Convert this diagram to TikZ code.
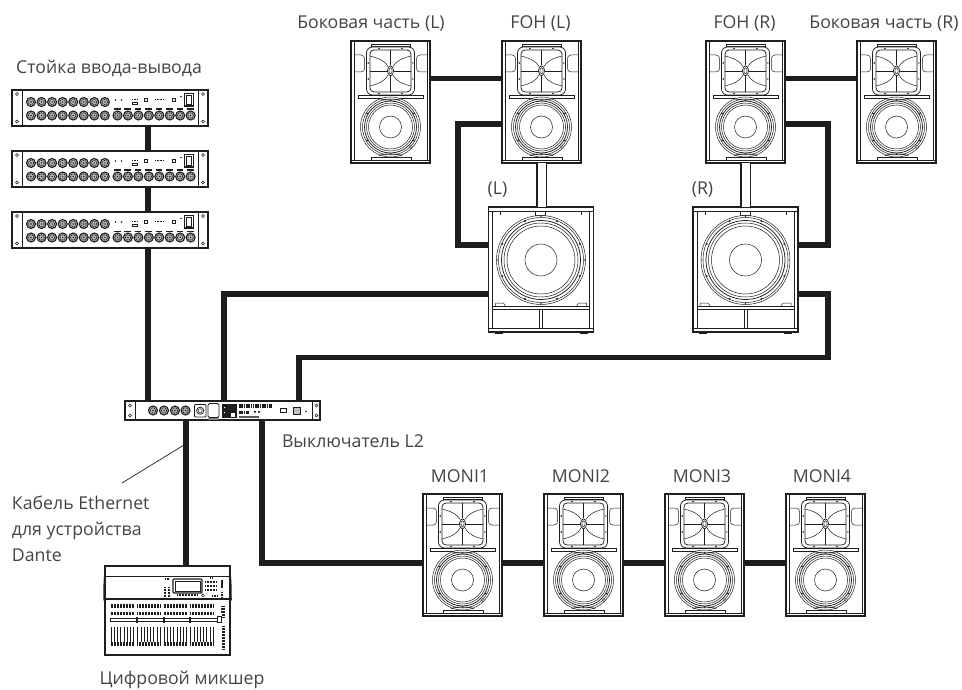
\documentclass[tikz,border=0pt]{standalone}
\usepackage{fontspec}
\setmainfont{Open Sans}
\definecolor{ink}{HTML}{1E1E1E}
\definecolor{txt}{HTML}{444444}
\tikzset{
  x=1pt,y=-1pt,
  cable/.style={line width=5.6pt,color=ink,line join=miter,line cap=butt},
  link/.style={double=white,double distance=8pt,line width=1.1pt,color=ink},
  lbl/.style={font=\fontsize{17.7}{20}\selectfont,text=txt,inner sep=0pt,outer sep=0pt},
  frame/.style={draw=ink,line width=1.3pt,fill=white,inner sep=0pt,outer sep=0pt,rectangle},
  spk/.style={frame,minimum width=79pt,minimum height=122pt},
  sub/.style={frame,minimum width=105pt,minimum height=125pt},
  rack/.style={frame,minimum width=196pt,minimum height=36pt},
  dev/.style={frame,minimum width=195pt,minimum height=19pt},
  mixer/.style={frame,minimum width=125pt,minimum height=89pt},
  thin/.style={draw=ink,line width=0.5pt},
  med/.style={draw=ink,line width=0.75pt},
  dots/.style={draw=ink,line width=2.6pt,dash pattern=on 1pt off 0.5pt},
  spkdetail/.pic={
    \draw[med] (3,0) -- (3,119) (76,0) -- (76,119) (0,119) -- (79,119);
    \draw[thin] (20,5.5) rectangle (59,3.5) (20,119) rectangle (60,116.5);
    \draw[line width=1.6pt,ink] (5,122.6) -- (14,122.6) (20,122.6) -- (28,122.6) (51,122.6) -- (59,122.6) (65,122.6) -- (74,122.6);
    \draw[thin] (3,14) -- (10,14) .. controls (13,14) and (13.5,16) .. (13.5,18) -- (13.5,27) .. controls (13.5,29) and (13,31) .. (10,31) -- (3,31);
    \draw[thin] (76,14) -- (69,14) .. controls (66,14) and (65.5,16) .. (65.5,18) -- (65.5,27) .. controls (65.5,29) and (66,31) .. (69,31) -- (76,31);
    \draw[med,rounded corners=6pt,fill=white] (15.5,6) rectangle (63.5,54);
    \draw[med,rounded corners=4pt] (19,9) rectangle (60,51);
    \draw[thin] (39.5,9) -- (39.5,24) (39.5,35) -- (39.5,51) (19,29.8) -- (36.5,29.8) (42.5,29.8) -- (60,29.8);
    \draw[med] (39.5,29.8) ellipse (3pt and 5pt);
    \draw[thin] (39.5,29.8) ellipse (1.6pt and 3pt);
    \draw[thin] (19,15) .. controls (27,17) and (33,19) .. (37,25.5)
                (60,15) .. controls (52,17) and (46,19) .. (42,25.5)
                (19,45) .. controls (27,43) and (33,41) .. (37,34)
                (60,45) .. controls (52,43) and (46,41) .. (42,34);
    \foreach \px in {28,51}{\fill[ink] (\px,7.5) circle (0.9pt) (\px,52.5) circle (0.9pt);}
    \foreach \py in {22,38}{\fill[ink] (17.2,\py) circle (0.8pt) (61.8,\py) circle (0.8pt);}
    \draw[thin,fill=white] (7,54.3) rectangle (72,57);
    \draw[thin,fill=white] (39.5,86) circle (30pt);
    \draw[thin] (39.5,86) circle (28pt);
    \draw[med] (39.5,86) circle (26pt);
    \draw[thin] (39.5,86) circle (24pt);
    \draw[thin] (39.5,86) circle (22pt);
    \draw[thin] (39.5,86) circle (11pt);
    \draw[med] (28,57.5) .. controls (35,59.5) and (44,59.5) .. (51,57.5)
               (28,114.5) .. controls (35,112.5) and (44,112.5) .. (51,114.5);
    \foreach \a in {30,90,150,210,270,330}{\fill[ink] ($(39.5,86)+(\a:27)$) circle (0.9pt);}
    \draw[thin,fill=white] (60,106) circle (1.6pt);
  },
  subdetail/.pic={
    \draw[med] (0,4) -- (105,4) (4,4) -- (4,121) (101,4) -- (101,121) (0,121) -- (105,121);
    \draw[thin] (12,4) -- (12,8) (93,4) -- (93,8);
    \draw[thin,fill=white] (47,4) rectangle (57,8);
    \draw[med] (4,99) -- (101,99) (4,102.5) -- (101,102.5);
    \draw[thin] (7,99) -- (7,96) -- (15,96) -- (17,99) (98,99) -- (98,96) -- (90,96) -- (88,99);
    \draw[thin] (51,102.5) -- (51,121) (54,102.5) -- (54,121);
    \draw[line width=1.6pt,ink] (6,125.7) -- (14,125.7) (91,125.7) -- (99,125.7);
    \draw[thin,fill=white] (52.5,53) circle (44.5pt);
    \draw[thin] (52.5,53) circle (42.5pt);
    \draw[med] (52.5,53) circle (39.5pt);
    \draw[thin] (52.5,53) circle (37pt);
    \draw[thin] (52.5,53) circle (34pt);
    \draw[thin] (52.5,53) circle (16pt);
    \foreach \a in {22.5,67.5,...,337.5}{\fill[ink] ($(52.5,53)+(\a:42)$) circle (1.1pt);}
    \foreach \a in {90,270,0,180}{\fill[ink] ($(52.5,53)+(\a:43.5)$) circle (0.7pt);}
  },
  xlr/.pic={
    \draw[line width=1.1pt,ink,fill=gray!55] (0,0) circle (4.5pt);
    \draw[line width=0.8pt,ink,dash pattern=on 1.1pt off 0.8pt] (0,0) circle (2.7pt);
    \fill[ink] (0,0) circle (0.8pt);
  },
  rackdetail/.pic={
    \draw[med] (10,0) -- (10,36) (186,0) -- (186,36);
    \draw[thin] (5,4) circle (1.4pt) (5,31.5) circle (1.4pt) (191,4) circle (1.4pt) (191,31.5) circle (1.4pt);
    \foreach \i in {0,...,7}{
      \pic at ({19+10.55*\i},12) {xlr};
      \pic at ({19+10.55*\i},25.5) {xlr};
      \pic at ({105.5+10.45*\i},25.5) {xlr};
      \fill[ink] ({102+10.45*\i},18.5) rectangle ({108.5+10.45*\i},20);
    }
    \fill[ink] (103.5,10) circle (0.8pt) (109.5,10) circle (0.8pt);
    \draw[dots,line width=1.4pt] (120,9.8) -- (126,9.8);
    \draw[thin] (120.5,12) rectangle (125,14.5);
    \draw[med] (132,8.5) rectangle (135.5,11);
    \draw[dots,line width=1.4pt] (143,9.8) -- (151,9.8);
    \draw[med] (160,8.5) rectangle (163.5,11);
    \fill[ink] (169,6.5) circle (0.9pt);
    \draw[line width=1.1pt,ink] (172.5,3.5) rectangle (181.5,16);
    \draw[thin] (174.5,5.5) rectangle (179.5,14);
  },
  devdetail/.pic={
    \draw[med] (10.5,0) -- (10.5,19) (187,0) -- (187,19);
    \draw[thin] (5,4.5) circle (1.5pt) (5,14.5) circle (1.5pt) (191.5,4.5) circle (1.5pt) (191.5,14.5) circle (1.5pt);
    \foreach \px in {28,39,50,60.5}{\pic at (\px,9.5) {xlr};}
    \draw[med,rounded corners=1pt] (69.5,3.5) rectangle (81,16);
    \draw[med] (75.2,9.7) circle (3.6pt);
    \draw[thin] (75.2,9.7) circle (2pt);
    \draw[med,rounded corners=1.5pt] (83,2.5) rectangle (94,16.5);
    \draw[line width=1.4pt,gray] (83,17.8) -- (94,17.8);
    \fill[ink] (97,2.5) rectangle (112,17);
    \fill[white] (106,12) rectangle (110,15.5);
    \fill[white] (99,6) rectangle (100,7) (99,11) rectangle (100,12);
    \draw[line width=4pt,dash pattern=on 1.6pt off 0.7pt,ink] (114,5.2) -- (147,5.2);
    \draw[line width=3.4pt,dash pattern=on 1.6pt off 0.7pt,ink] (114,11.2) -- (124,11.2);
    \fill[ink] (129,10) rectangle (131,11.5) (133,10) rectangle (135,11.5);
    \draw[line width=1.5pt,gray!70!black] (114,16) -- (134,16);
    \draw[med] (155,7) rectangle (161,11.5);
    \draw[med,fill=gray!50] (168,6) rectangle (175,13);
    \fill[ink] (181,10.5) circle (0.9pt);
  },
  mixerdetail/.pic={
    \draw[med] (0,10) -- (125,10);
    \draw[line width=1.2pt,ink] (-1.5,33) -- (126.5,33);
    \draw[thin] (0,2) .. controls (-1.5,15) and (-1.5,25) .. (-1.5,33) -- (0,38)
                (125,2) .. controls (126.5,15) and (126.5,25) .. (126.5,33) -- (125,38);
    \draw[line width=1.1pt,ink,rounded corners=1pt] (68,13) rectangle (97,27);
    \draw[thin] (70,15) rectangle (95,25);
    \draw[dots] (60,13) -- (64,13) (60,21) -- (60,31) (64,21) -- (64,31);
    \draw[dots] (72,29) -- (92,29);
    \draw[thin,fill=white] (98,29.5) circle (1.6pt);
    \draw[dots] (100,16) -- (112,16) (100,20) -- (112,20) (100,24) -- (112,24);
    \draw[line width=2.4pt,ink] (117,14) -- (117,22);
    \draw[dots] (105,12) -- (108,12) (117,26) -- (117,32) (107,30) -- (112,30);
    \foreach \gx in {5.5,32,58.5,85}{
      \draw[dots,line width=3.4pt] (\gx,40) -- (\gx+24,40) (\gx,47.5) -- (\gx+24,47.5);
      \foreach \k in {0,...,7}{\draw[line width=0.9pt,ink] ({\gx+0.8+3.2*\k},61) -- ({\gx+0.8+3.2*\k},76);}
      \draw[line width=4pt,dash pattern=on 1pt off 0.5pt,ink] (\gx,78) -- (\gx+24,78);
    }
    \draw[med,fill=white] (5.5,52) rectangle (112,55);
    \foreach \px in {31,58,84}{\draw[med,fill=white] (\px,51) rectangle (\px+1.5,56);}
    \draw[med,fill=white] (112,50.5) rectangle (116.5,56);
    \draw[dots] (117,40) -- (117,47);
    \draw[dots] (118.5,40) -- (118.5,51);
    \draw[dots] (118.5,60) -- (118.5,83);
  }
}
\usetikzlibrary{calc}
\begin{document}
\begin{tikzpicture}
\useasboundingbox (0,0) rectangle (962,690);
\node[lbl,anchor=center] (tsidel) at (371,23.5) {Боковая часть (L)};
\node[lbl,anchor=center] (tfohl) at (540.5,23.5) {FOH (L)};
\node[lbl,anchor=center] (tfohr) at (744.5,23.5) {FOH (R)};
\node[lbl,anchor=center] (tsider) at (884,23.5) {Боковая часть (R)};
\node[lbl,anchor=center] (tl) at (497.5,190) {(L)};
\node[lbl,anchor=center] (tr) at (702.5,190) {(R)};
\node[lbl,anchor=center] (track) at (109,68.5) {Стойка ввода-вывода};
\node[lbl,anchor=west] (tl2) at (282,441) {Выключатель L2};
\node[lbl,anchor=center] (tm1) at (460,476) {MONI1};
\node[lbl,anchor=center] (tm2) at (581,476) {MONI2};
\node[lbl,anchor=center] (tm3) at (702,476) {MONI3};
\node[lbl,anchor=center] (tm4) at (822,476) {MONI4};
\node[lbl,anchor=north west,align=left,font=\fontsize{17.7}{26}\selectfont] (tcab) at (12,495.5) {Кабель Ethernet\\для устройства\\Dante};
\node[lbl,anchor=center] (tmix) at (182,680) {Цифровой микшер};
\node[spk] (sidel) at (390.5,102) {};
\node[spk] (fohl) at (541.5,102) {};
\node[spk] (fohr) at (745.5,102) {};
\node[spk] (sider) at (896.5,102) {};
\node[sub] (subl) at (541,269.5) {};
\node[sub] (subr) at (745.5,269.5) {};
\node[rack] (rack1) at (110,108) {};
\node[rack] (rack2) at (110,169) {};
\node[rack] (rack3) at (110,230) {};
\node[dev] (dev) at (222.5,410.5) {};
\node[mixer] (mix) at (167.5,610.5) {};
\node[spk] (m1) at (462.5,555) {};
\node[spk] (m2) at (583.5,555) {};
\node[spk] (m3) at (704.5,555) {};
\node[spk] (m4) at (825.5,555) {};
\draw[cable] (sidel.east |- 0,78.5) -- (fohl.west |- 0,78.5);
\draw[cable] (fohr.east |- 0,78.5) -- (sider.west |- 0,78.5);
\draw[cable] (fohl.west |- 0,124) -- (458,124) -- (458,245) -- (subl.west |- 0,245);
\draw[cable] (fohr.east |- 0,124) -- (828,124) -- (828,245) -- (subr.east |- 0,245);
\draw[link] (fohl.south) -- (fohl.south |- subl.north);
\draw[link] (fohr.south) -- (fohr.south |- subr.north);
\draw[cable] (subl.west |- 0,294) -- (224,294) -- (224 ,401);
\draw[cable] (subr.east |- 0,294) -- (828,294) -- (828,357.5) -- (299,357.5) -- (299,401);
\draw[cable] (148,0 |- rack1.south) -- (148,0 |- rack2.north);
\draw[cable] (148,0 |- rack2.south) -- (148,0 |- rack3.north);
\draw[cable] (148,0 |- rack3.south) -- (148,0 |- dev.north);
\draw[cable] (186,0 |- dev.south) -- (186,0 |- mix.north);
\draw[cable] (262,0 |- dev.south) -- (262,563) -- (m1.west |- 0,563);
\draw[cable] (m1.east |- 0,563) -- (m2.west |- 0,563);
\draw[cable] (m2.east |- 0,563) -- (m3.west |- 0,563);
\draw[cable] (m3.east |- 0,563) -- (m4.west |- 0,563);
\coordinate (leadEnd) at (122,483);
\draw[line width=0.7pt,ink] (leadEnd) -- (184,445);
\foreach \n in {sidel,fohl,fohr,sider,m1,m2,m3,m4}{\pic at (\n.north west) {spkdetail};}
\foreach \n in {subl,subr}{\pic at (\n.north west) {subdetail};}
\foreach \n in {rack1,rack2,rack3}{\pic at (\n.north west) {rackdetail};}
\pic at (dev.north west) {devdetail};
\pic at (mix.north west) {mixerdetail};
\end{tikzpicture}
\end{document}
